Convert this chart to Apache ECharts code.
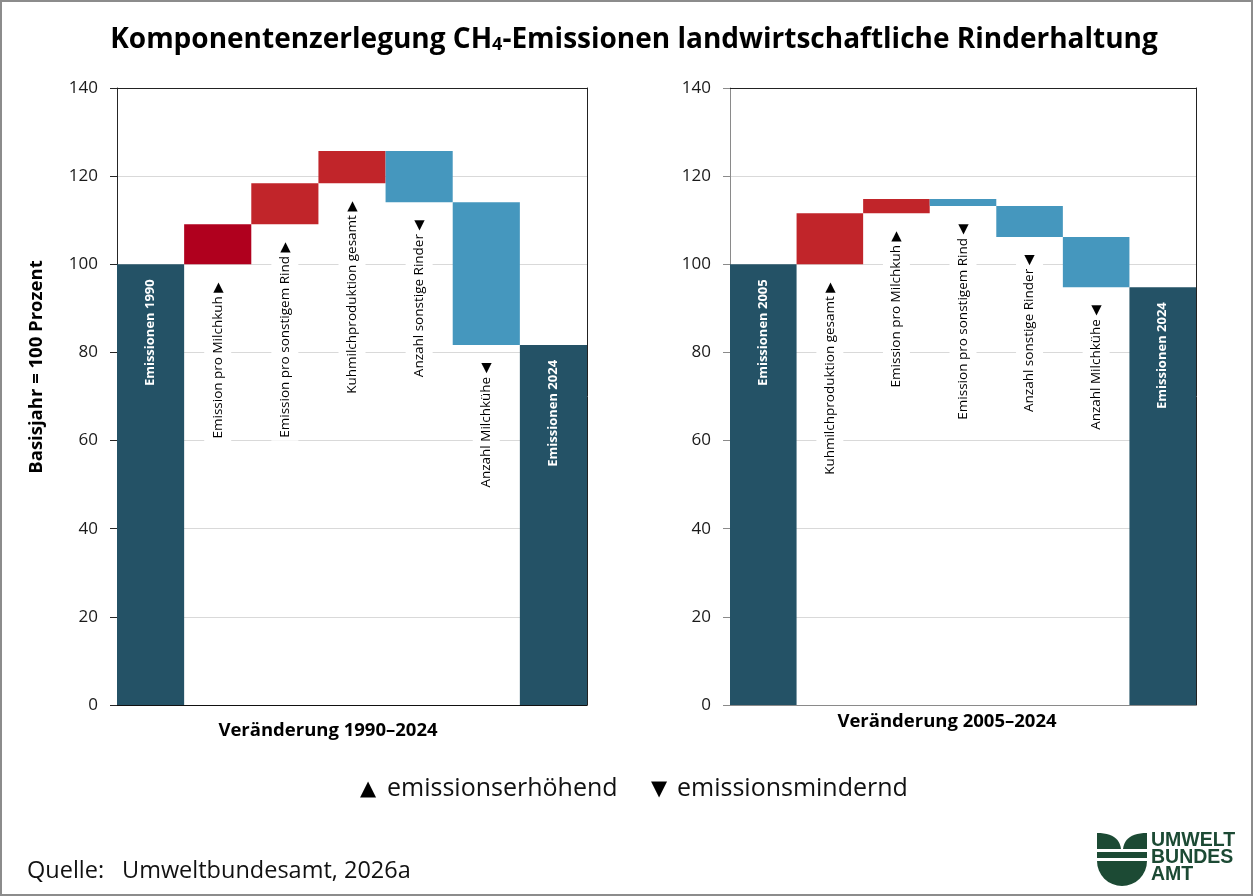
<!DOCTYPE html>
<html>
<head>
<meta charset="utf-8">
<script src="https://cdn.jsdelivr.net/npm/echarts@6/dist/echarts.min.js"></script>
<style>
  html, body { margin: 0; padding: 0; background: #fff; }
  #chart { width: 1253px; height: 896px; }
</style>
</head>
<body>
<div id="chart"></div>
<script>
// ---- data: index 1990 = 100 ----
const categories1990 = ['Emissionen 1990', 'Emission pro Milchkuh', 'Emission pro sonstigem Rind',
  'Kuhmilchproduktion gesamt', 'Anzahl sonstige Rinder', 'Anzahl Milchkühe', 'Emissionen 2024'];
const kinds1990 = ['total', 'change', 'change', 'change', 'change', 'change', 'total'];
const values1990 = [100, 9.1, 9.3, 7.3, -11.6, -32.4, 81.7];

// ---- data: index 2005 = 100 ----
const categories2005 = ['Emissionen 2005', 'Kuhmilchproduktion gesamt', 'Emission pro Milchkuh',
  'Emission pro sonstigem Rind', 'Anzahl sonstige Rinder', 'Anzahl Milchkühe', 'Emissionen 2024'];
const kinds2005 = ['total', 'change', 'change', 'change', 'change', 'change', 'total'];
const values2005 = [100, 11.6, 3.2, -1.6, -7.0, -11.4, 94.8];

const yTicks = [0, 20, 40, 60, 80, 100, 120, 140];

// ---- styles ----
const FONT = "'Open Sans', 'DejaVu Sans', sans-serif";
const COL_TOTAL = '#245266';
const COL_UP = '#c1252a';
const COL_UP_STRONG = '#b0001e';
const COL_DOWN = '#4597be';
const GRID_COL = '#d9d9d9';

// labels are turned 90° counter-clockwise, so a right/left pointing
// triangle ends up pointing up/down on screen
const MARK_UP = '▶';
const MARK_DOWN = '◀';

// running totals -> invisible base + visible segment per category
function waterfall(kinds, values) {
  let level = 0;
  const base = [], size = [];
  values.forEach((v, i) => {
    if (kinds[i] === 'total') {
      base.push(0); size.push(v); level = v;
    } else {
      base.push(v >= 0 ? level : level + v);
      size.push(Math.abs(v));
      level += v;
    }
  });
  return { base, size };
}

function makeSeries(idx, categories, kinds, values, firstUpColor) {
  const wf = waterfall(kinds, values);
  let upCount = 0;
  const changeLabel = {
    position: 'insideTop', distance: 15, rotate: 90, align: 'right', verticalAlign: 'middle',
    fontFamily: FONT, fontSize: 13.5, color: '#000', backgroundColor: '#fff',
    padding: [5, 3], lineHeight: 17
  };
  const totalLabel = {
    position: 'insideTop', distance: 15, rotate: 90, align: 'right', verticalAlign: 'middle',
    fontFamily: FONT, fontSize: 13, fontWeight: 'bold', color: '#fff'
  };
  const baseSeries = {
    type: 'bar', xAxisIndex: idx * 2, yAxisIndex: idx * 2, stack: 'wf' + idx,
    barCategoryGap: '0%', silent: true, z: 2,
    itemStyle: { color: 'rgba(0,0,0,0)' },
    label: changeLabel,
    data: wf.base.map((b, i) => ({
      value: b,
      label: kinds[i] === 'change'
        ? { show: true, formatter: categories[i] + ' ' + (values[i] >= 0 ? MARK_UP : MARK_DOWN) }
        : { show: false }
    }))
  };
  const barSeries = {
    type: 'bar', xAxisIndex: idx * 2, yAxisIndex: idx * 2, stack: 'wf' + idx,
    barCategoryGap: '0%', silent: true, z: 2,
    label: totalLabel,
    data: wf.size.map((s, i) => {
      let color = COL_TOTAL;
      if (kinds[i] === 'change') {
        if (values[i] >= 0) { color = (upCount === 0 && firstUpColor) ? firstUpColor : COL_UP; upCount++; }
        else color = COL_DOWN;
      }
      return {
        value: s,
        itemStyle: { color },
        label: kinds[i] === 'total' ? { show: true, formatter: categories[i] } : { show: false }
      };
    })
  };
  return [baseSeries, barSeries];
}

function axesFor(idx, categories, axisCol, baseCol, frameCol) {
  const x = [
    { gridIndex: idx, type: 'category', data: categories, position: 'bottom',
      axisLine: { show: true, onZero: false, lineStyle: { color: baseCol, width: 1 } },
      axisTick: { show: false }, axisLabel: { show: false }, splitLine: { show: false } },
    { gridIndex: idx, type: 'category', data: categories, position: 'top',
      axisLine: { show: true, onZero: false, lineStyle: { color: frameCol, width: 1 } },
      axisTick: { show: false }, axisLabel: { show: false }, splitLine: { show: false } }
  ];
  const y = [
    { gridIndex: idx, type: 'value', min: yTicks[0], max: yTicks[yTicks.length - 1],
      interval: yTicks[1] - yTicks[0], position: 'left',
      axisLine: { show: true, onZero: false, lineStyle: { color: axisCol, width: 1 } },
      axisTick: { show: true, inside: false, length: 7, lineStyle: { color: axisCol } },
      axisLabel: { margin: 19, fontFamily: FONT, fontSize: 17, color: '#1a1a1a' },
      splitLine: { show: true, lineStyle: { color: GRID_COL, width: 1 } } },
    { gridIndex: idx, type: 'value', min: yTicks[0], max: yTicks[yTicks.length - 1],
      interval: yTicks[1] - yTicks[0], position: 'right',
      axisLine: { show: true, onZero: false, lineStyle: { color: frameCol, width: 1 } },
      axisTick: { show: false }, axisLabel: { show: false }, splitLine: { show: false } }
  ];
  return { x, y };
}

const a1 = axesFor(0, categories1990, '#262626', '#111', '#222');
const a2 = axesFor(1, categories2005, '#8a8a8a', '#8a8a8a', '#222');

const GREEN = '#1c4a34';

// leaf outline of the logo mark (quadratic curve sampled into a polygon)
function leaf(x0, y0, cx, cy, x1, y1, xb) {
  const pts = [];
  for (let k = 0; k <= 12; k++) {
    const t = k / 12;
    pts.push([(1 - t) * (1 - t) * x0 + 2 * (1 - t) * t * cx + t * t * x1,
              (1 - t) * (1 - t) * y0 + 2 * (1 - t) * t * cy + t * t * y1]);
  }
  pts.push([xb, y1]);
  return pts;
}

const LOGO_FONT = "bold 19.5px 'Liberation Sans', Arial, sans-serif";

const option = {
  backgroundColor: '#fff',
  animation: false,
  grid: [
    { left: 117, top: 88, width: 470, height: 617 },
    { left: 730, top: 88, width: 466, height: 617 }
  ],
  xAxis: [...a1.x, ...a2.x],
  yAxis: [...a1.y, ...a2.y],
  series: [
    ...makeSeries(0, categories1990, kinds1990, values1990, COL_UP_STRONG),
    ...makeSeries(1, categories2005, kinds2005, values2005, null)
  ],
  graphic: [
    // frame
    { type: 'rect', silent: true, shape: { x: 1, y: 1, width: 1251, height: 894 },
      style: { fill: 'none', stroke: '#8c8c8c', lineWidth: 2 } },
    // title
    { type: 'text', silent: true, x: 634, y: 40,
      style: { text: 'Komponentenzerlegung CH{sub|4}-Emissionen landwirtschaftliche Rinderhaltung',
        font: "bold 28px " + FONT, fill: '#000', align: 'center', verticalAlign: 'middle',
        rich: { sub: { fontFamily: FONT, fontSize: 18, fontWeight: 'bold', fill: '#000',
          padding: [10, 0, 0, 0] } } } },
    // y axis name
    { type: 'text', silent: true, x: 37, y: 367, rotation: Math.PI / 2,
      style: { text: 'Basisjahr = 100 Prozent', font: 'bold 18.5px ' + FONT, fill: '#000',
        align: 'center', verticalAlign: 'middle' } },
    // period names
    { type: 'text', silent: true, x: 328, y: 731,
      style: { text: 'Veränderung 1990–2024', font: 'bold 18.5px ' + FONT, fill: '#000',
        align: 'center', verticalAlign: 'middle' } },
    { type: 'text', silent: true, x: 947, y: 722,
      style: { text: 'Veränderung 2005–2024', font: 'bold 18.5px ' + FONT, fill: '#000',
        align: 'center', verticalAlign: 'middle' } },
    // key
    { type: 'text', silent: true, x: 368, y: 789,
      style: { text: '▲', font: '21px ' + FONT, fill: '#000', align: 'center', verticalAlign: 'middle' } },
    { type: 'text', silent: true, x: 387, y: 789,
      style: { text: 'emissionserhöhend', font: '25px ' + FONT, fill: '#111', align: 'left', verticalAlign: 'middle' } },
    { type: 'text', silent: true, x: 659, y: 789,
      style: { text: '▼', font: '21px ' + FONT, fill: '#000', align: 'center', verticalAlign: 'middle' } },
    { type: 'text', silent: true, x: 677, y: 789,
      style: { text: 'emissionsmindernd', font: '25px ' + FONT, fill: '#111', align: 'left', verticalAlign: 'middle' } },
    // source
    { type: 'text', silent: true, x: 27, y: 871,
      style: { text: 'Quelle:', font: '23.5px ' + FONT, fill: '#111', align: 'left', verticalAlign: 'middle' } },
    { type: 'text', silent: true, x: 122, y: 871,
      style: { text: 'Umweltbundesamt, 2026a', font: '23.5px ' + FONT, fill: '#111', align: 'left', verticalAlign: 'middle' } },
    // logo mark
    { type: 'polygon', silent: true, shape: { points: leaf(1097, 833, 1119, 833, 1121, 849, 1097) },
      style: { fill: GREEN } },
    { type: 'polygon', silent: true, shape: { points: leaf(1147, 833, 1125, 833, 1123, 849, 1147) },
      style: { fill: GREEN } },
    { type: 'rect', silent: true, shape: { x: 1097, y: 852, width: 50, height: 6 }, style: { fill: GREEN } },
    { type: 'sector', silent: true,
      shape: { cx: 1122, cy: 861, r0: 0, r: 25, startAngle: 0, endAngle: Math.PI, clockwise: true },
      style: { fill: GREEN } },
    // logo lettering
    { type: 'text', silent: true, x: 1151, y: 841,
      style: { text: 'UMWELT', font: LOGO_FONT, fill: GREEN, align: 'left', verticalAlign: 'middle' } },
    { type: 'text', silent: true, x: 1151, y: 858,
      style: { text: 'BUNDES', font: LOGO_FONT, fill: GREEN, align: 'left', verticalAlign: 'middle' } },
    { type: 'text', silent: true, x: 1151, y: 875,
      style: { text: 'AMT', font: LOGO_FONT, fill: GREEN, align: 'left', verticalAlign: 'middle' } }
  ]
};

const chart = echarts.init(document.getElementById('chart'), null, { renderer: 'canvas' });
chart.setOption(option);
</script>
</body>
</html>
